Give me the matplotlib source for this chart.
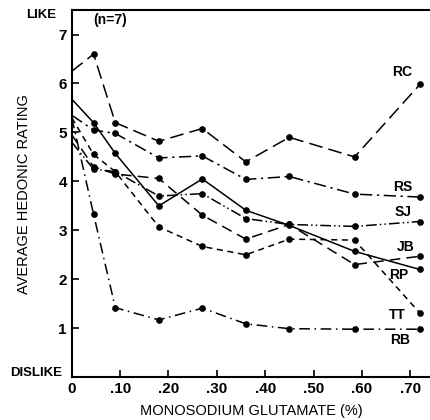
import numpy as np
import matplotlib
matplotlib.use('Agg')
import matplotlib.pyplot as plt

plt.rcParams['font.family'] = ['Liberation Sans', 'DejaVu Sans']
plt.rcParams['font.weight'] = 'bold'

# MSG concentration (%)
msg = [0, 0.045, 0.09, 0.18, 0.27, 0.36, 0.45, 0.585, 0.72]

# average hedonic rating per panelist
RC = [6.25, 6.6, 5.2, 4.82, 5.08, 4.4, 4.9, 4.5, 5.98]
RS = [5.35, 5.05, 4.98, 4.48, 4.52, 4.04, 4.1, 3.74, 3.68]
SJ = [4.8, 4.25, 4.2, 3.7, 3.75, 3.24, 3.12, 3.08, 3.18]
JB = [4.95, 4.3, 4.15, 4.06, 3.31, 2.82, 3.12, 2.3, 2.47]
RP = [5.68, 5.2, 4.57, 3.5, 4.05, 3.41, 3.1, 2.57, 2.2]
TT = [5.3, 4.55, 4.2, 3.07, 2.67, 2.5, 2.82, 2.8, 1.31]
RB = [5.3, 3.33, 1.42, 1.17, 1.41, 1.09, 0.99, 0.98, 0.98]

names = ['RC', 'RS', 'SJ', 'JB', 'RP', 'TT', 'RB']
series = [RC, RS, SJ, JB, RP, TT, RB]
styles = [(0, (9, 4)), (0, (8, 3, 1.5, 3)), (0, (7, 2, 1, 2, 1, 2)),
          (0, (7, 4)), '-', (0, (4, 3)), (0, (7, 3, 1, 3))]
# label offsets (points) from the last point
offs = [(-13, 9), (-12, 7), (-12, 7), (-10, 7), (-15, -4), (-16, -1.5), (-14, -8)]

fig = plt.figure(figsize=(4.3, 4.2), dpi=100)
ax = fig.add_axes([0.167, 0.102, 0.833, 0.874])

for name, y, ls, off in zip(names, series, styles, offs):
    ax.plot(msg, y, color='black', linestyle=ls, linewidth=1.1,
            marker='o', markersize=3.8, markevery=list(range(1, len(msg))))
    ax.annotate(name, (msg[-1], y[-1]), xytext=off, textcoords='offset points',
                fontsize=10, ha='center', va='center')

ax.set_xlim(0, 0.741)
ax.set_ylim(0, 7.5)
ax.set_xticks([0, 0.1, 0.2, 0.3, 0.4, 0.5, 0.6, 0.7])
ax.set_xticklabels(['0', '.10', '.20', '.30', '.40', '.50', '.60', '.70'])
ax.set_yticks([1, 2, 3, 4, 5, 6, 7])
ax.tick_params(direction='in', length=5, width=1.2, labelsize=11)
ax.spines['right'].set_visible(False)
for s in ['left', 'bottom', 'top']:
    ax.spines[s].set_linewidth(1.5)

ax.set_xlabel('MONOSODIUM GLUTAMATE (%)', fontsize=10.5, labelpad=6)
ax.set_ylabel('AVERAGE HEDONIC RATING', fontsize=10.5, labelpad=20)
ax.text(0.08, 7.3, '(n=7)', fontsize=10, ha='center', va='center')
fig.text(0.095, 0.965, 'LIKE', fontsize=9.5, ha='center', va='center')
fig.text(0.085, 0.113, 'DISLIKE', fontsize=9.5, ha='center', va='center')

plt.savefig('out.png', dpi=100)
